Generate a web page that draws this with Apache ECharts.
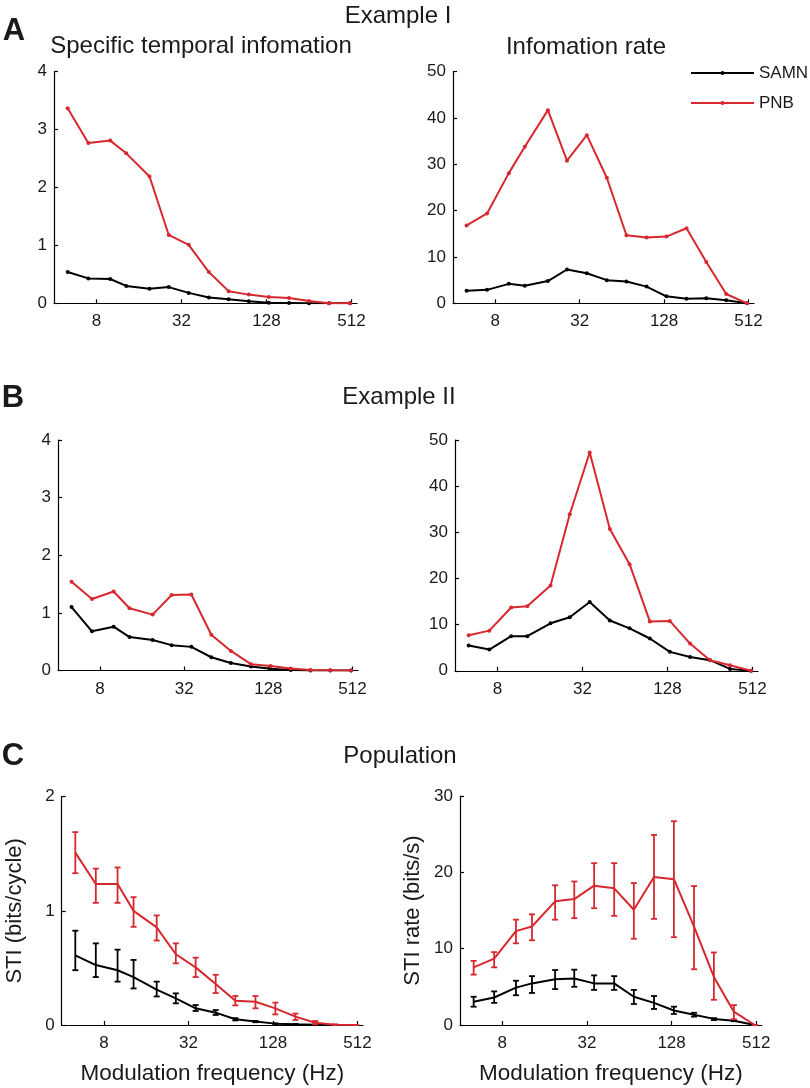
<!DOCTYPE html>
<html><head><meta charset="utf-8">
<script src="https://cdn.jsdelivr.net/npm/echarts@6/dist/echarts.min.js"></script>
<style>html,body{margin:0;padding:0;background:#fff}#c{width:810px;height:1088px}</style>
</head><body><div id="c"></div>
<script>
// ---- data ----
const freqHz = [5, 7, 10, 13, 19, 26, 36, 50, 69, 96, 133, 185, 256, 355, 500];
const xTickLabels = [8, 32, 128, 512];

const exI_sti_samn  = [0.54, 0.43, 0.42, 0.30, 0.25, 0.28, 0.18, 0.10, 0.07, 0.035, 0.01, 0.005, 0, 0, 0];
const exI_sti_pnb   = [3.37, 2.77, 2.81, 2.59, 2.19, 1.18, 1.01, 0.54, 0.21, 0.15, 0.11, 0.09, 0.04, 0, 0];
const exI_rate_samn = [2.7, 2.9, 4.2, 3.8, 4.8, 7.3, 6.5, 5.0, 4.7, 3.6, 1.5, 1.0, 1.1, 0.65, 0];
const exI_rate_pnb  = [16.8, 19.4, 28.1, 33.8, 41.7, 30.8, 36.3, 27.1, 14.7, 14.2, 14.4, 16.2, 8.9, 2.0, 0];

const exII_sti_samn  = [1.10, 0.68, 0.76, 0.58, 0.53, 0.44, 0.41, 0.23, 0.13, 0.07, 0.03, 0.01, 0, 0, 0];
const exII_sti_pnb   = [1.54, 1.24, 1.37, 1.08, 0.97, 1.31, 1.32, 0.62, 0.34, 0.11, 0.08, 0.035, 0.01, 0.005, 0];
const exII_rate_samn = [5.5, 4.6, 7.5, 7.5, 10.3, 11.6, 14.9, 10.9, 9.2, 7.0, 4.1, 3.0, 2.3, 0.4, 0];
const exII_rate_pnb  = [7.7, 8.7, 13.7, 14.0, 18.5, 33.9, 47.3, 30.7, 23.1, 10.7, 10.8, 5.9, 2.3, 1.2, 0];

const pop_sti_samn    = [0.61, 0.525, 0.48, 0.42, 0.31, 0.234, 0.146, 0.108, 0.05, 0.03, 0.012, 0.006, 0.002, 0, 0];
const pop_sti_samn_lo = [0.48, 0.42, 0.38, 0.32, 0.25, 0.19, 0.123, 0.088, 0.04, 0.024, 0.009, 0.004, 0, 0, 0];
const pop_sti_samn_hi = [0.826, 0.715, 0.66, 0.57, 0.38, 0.277, 0.175, 0.131, 0.06, 0.036, 0.015, 0.008, 0.003, 0, 0];
const pop_sti_pnb     = [1.51, 1.235, 1.235, 1.00, 0.855, 0.62, 0.505, 0.36, 0.213, 0.204, 0.146, 0.073, 0.02, 0.003, 0];
const pop_sti_pnb_lo  = [1.33, 1.07, 1.07, 0.86, 0.74, 0.54, 0.42, 0.28, 0.172, 0.146, 0.093, 0.044, 0.006, 0, 0];
const pop_sti_pnb_hi  = [1.69, 1.37, 1.38, 1.12, 0.96, 0.715, 0.59, 0.44, 0.254, 0.254, 0.196, 0.10, 0.035, 0.006, 0];

const pop_rate_samn    = [3.05, 3.6, 4.9, 5.45, 6.0, 6.1, 5.45, 5.45, 3.7, 2.9, 1.9, 1.35, 0.8, 0.57, 0];
const pop_rate_samn_lo = [2.4, 2.9, 3.9, 4.2, 4.7, 5.0, 4.6, 4.6, 2.75, 2.1, 1.45, 1.1, 0.65, 0.5, 0];
const pop_rate_samn_hi = [3.7, 4.4, 5.8, 6.4, 7.2, 7.25, 6.5, 6.4, 4.6, 3.8, 2.4, 1.6, 0.9, 0.65, 0];
const pop_rate_pnb     = [7.55, 8.7, 12.3, 12.9, 16.2, 16.5, 18.25, 17.9, 15.1, 19.4, 19.1, 12.9, 6.3, 1.75, 0];
const pop_rate_pnb_lo  = [6.6, 7.55, 10.7, 11.1, 13.8, 14.0, 15.3, 14.3, 11.3, 13.9, 11.5, 7.3, 3.3, 0.75, 0];
const pop_rate_pnb_hi  = [8.4, 9.55, 13.8, 14.5, 18.3, 18.8, 21.2, 21.2, 18.6, 24.9, 26.7, 18.2, 9.5, 2.6, 0];

// ---- styling ----
const FONT = '"Liberation Sans", Arial, Helvetica, sans-serif';
const RED = '#d7282f', BLACK = '#000000', TXT = '#1a1a1a';

const lg = f => Math.log2(f);
const pts = ys => freqHz.map((f, i) => [lg(f), ys[i]]);
const errPts = (lo, hi) => freqHz.map((f, i) => [lg(f), lo[i], hi[i]]);
const tickVals = xTickLabels.map(lg);

const panels = [
  {left: 54,  top: 71.7, width: 303, height: 231.6, ymax: 4,  yint: 1},
  {left: 453, top: 71.7, width: 301, height: 231.6, ymax: 50, yint: 10},
  {left: 58,  top: 440,  width: 300, height: 230.5, ymax: 4,  yint: 1},
  {left: 455, top: 440,  width: 303, height: 230.8, ymax: 50, yint: 10},
  {left: 61.7,top: 796.7,width: 301.3,height: 228.3,ymax: 2,  yint: 1, yname: 'STI (bits/cycle)', xname: 'Modulation frequency (Hz)'},
  {left: 460, top: 796,  width: 301.7,height: 229,  ymax: 30, yint: 10, yname: 'STI rate (bits/s)', xname: 'Modulation frequency (Hz)'}
];

const grid = panels.map(p => ({left: p.left, top: p.top, width: p.width, height: p.height, containLabel: false}));
const axisLineStyle = {color: '#000', width: 1.2};
const xAxis = panels.map((p, i) => ({
  type: 'value', gridIndex: i, min: 2, max: 9.13,
  axisLine: {show: true, lineStyle: axisLineStyle},
  axisTick: {show: true, inside: true, length: 4, customValues: tickVals, lineStyle: axisLineStyle},
  axisLabel: {show: true, customValues: tickVals, formatter: v => String(Math.round(Math.pow(2, v))),
              fontSize: 17, fontFamily: FONT, color: TXT, margin: 10},
  splitLine: {show: false},
  name: p.xname || '', nameLocation: 'middle', nameGap: 37,
  nameTextStyle: {fontSize: 22.5, fontFamily: FONT, color: TXT}
}));
const yAxis = panels.map((p, i) => ({
  type: 'value', gridIndex: i, min: 0, max: p.ymax, interval: p.yint,
  axisLine: {show: true, lineStyle: axisLineStyle},
  axisTick: {show: true, inside: true, length: 4, lineStyle: axisLineStyle},
  axisLabel: {fontSize: 17, fontFamily: FONT, color: TXT, margin: 7},
  splitLine: {show: false},
  name: p.yname || '', nameLocation: 'middle', nameGap: 36,
  nameTextStyle: {fontSize: 22, fontFamily: FONT, color: TXT}
}));

function lineSeries(name, color, ys, idx, withSymbol) {
  return {
    type: 'line', name, xAxisIndex: idx, yAxisIndex: idx, data: pts(ys),
    symbol: withSymbol ? 'circle' : 'none', symbolSize: 4, showSymbol: withSymbol,
    lineStyle: {color, width: 2}, itemStyle: {color}, color,
    animation: false, silent: true, z: color === RED ? 3 : 2
  };
}
function errSeries(name, color, lo, hi, idx) {
  return {
    type: 'custom', name, xAxisIndex: idx, yAxisIndex: idx, data: errPts(lo, hi),
    encode: {x: 0, y: [1, 2]}, animation: false, silent: true, z: color === RED ? 3 : 2,
    renderItem: (params, api) => {
      const x = api.value(0);
      const a = api.coord([x, api.value(1)]);
      const b = api.coord([x, api.value(2)]);
      const w = 3;
      const style = {stroke: color, lineWidth: 1.8};
      return {type: 'group', children: [
        {type: 'line', shape: {x1: a[0], y1: a[1], x2: b[0], y2: b[1]}, style},
        {type: 'line', shape: {x1: a[0] - w, y1: a[1], x2: a[0] + w, y2: a[1]}, style},
        {type: 'line', shape: {x1: b[0] - w, y1: b[1], x2: b[0] + w, y2: b[1]}, style}
      ]};
    }
  };
}

const series = [
  lineSeries('SAMN', BLACK, exI_sti_samn, 0, true),
  lineSeries('PNB', RED, exI_sti_pnb, 0, true),
  lineSeries('SAMN', BLACK, exI_rate_samn, 1, true),
  lineSeries('PNB', RED, exI_rate_pnb, 1, true),
  lineSeries('SAMN', BLACK, exII_sti_samn, 2, true),
  lineSeries('PNB', RED, exII_sti_pnb, 2, true),
  lineSeries('SAMN', BLACK, exII_rate_samn, 3, true),
  lineSeries('PNB', RED, exII_rate_pnb, 3, true),
  lineSeries('SAMN', BLACK, pop_sti_samn, 4, false),
  errSeries('SAMN sem', BLACK, pop_sti_samn_lo, pop_sti_samn_hi, 4),
  lineSeries('PNB', RED, pop_sti_pnb, 4, false),
  errSeries('PNB sem', RED, pop_sti_pnb_lo, pop_sti_pnb_hi, 4),
  lineSeries('SAMN', BLACK, pop_rate_samn, 5, false),
  errSeries('SAMN sem', BLACK, pop_rate_samn_lo, pop_rate_samn_hi, 5),
  lineSeries('PNB', RED, pop_rate_pnb, 5, false),
  errSeries('PNB sem', RED, pop_rate_pnb_lo, pop_rate_pnb_hi, 5)
];

function txt(text, x, y, size, weight) {
  return {type: 'text', x, y, silent: true,
    style: {text, fontSize: size, fontWeight: weight || 'normal', fontFamily: FONT, fill: TXT,
            align: 'center', verticalAlign: 'middle'}};
}
const graphic = [
  txt('Example I', 398, 16, 24),
  txt('A', 14, 31, 31, 'bold'),
  txt('Specific temporal infomation', 201, 46, 24),
  txt('Infomation rate', 586, 47, 24),
  txt('B', 13, 398, 31, 'bold'),
  txt('Example II', 399, 397, 24),
  txt('C', 13, 756, 31, 'bold'),
  txt('Population', 400, 756, 24)
];

const chart = echarts.init(document.getElementById('c'), null, {renderer: 'canvas'});
chart.setOption({
  animation: false,
  backgroundColor: '#ffffff',
  grid, xAxis, yAxis, series, graphic,
  legend: {
    data: ['SAMN', 'PNB'], orient: 'vertical', left: 685, top: 58,
    itemWidth: 63, itemHeight: 5, itemGap: 10, selectedMode: false,
    textStyle: {fontSize: 17, fontFamily: FONT, color: TXT, lineHeight: 20}
  }
});
</script></body></html>
